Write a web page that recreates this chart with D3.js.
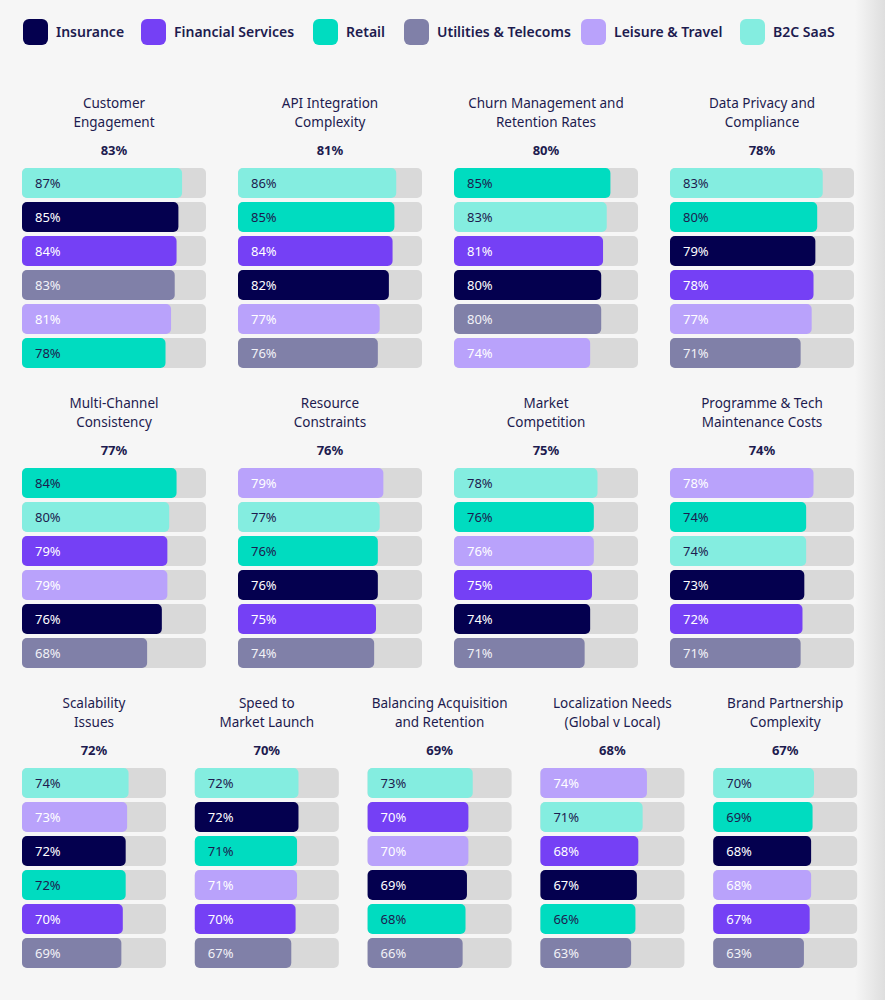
<!DOCTYPE html>
<html>
<head>
<meta charset="utf-8">
<script src="https://cdn.jsdelivr.net/npm/d3@7"></script>
<style>
  body { margin: 0; background: #f6f6f6; font-family: "Noto Sans", Inter, sans-serif; }
</style>
</head>
<body>
<svg id="chart" width="885" height="1000"></svg>
<script>
var series = ["Insurance", "Financial Services", "Retail", "Utilities & Telecoms", "Leisure & Travel", "B2C SaaS"];
var colors = ["#04004f", "#7540f5", "#00dcc0", "#8080a8", "#b9a2fb", "#84ede0"];
var labelColors = ["#ffffff", "#ffffff", "#1d1b4f", "#f2f2f7", "#ffffff", "#1d1b4f"];

var titles = [
  ["Customer", "Engagement"], ["API  Integration", "Complexity"], ["Churn Management and", "Retention Rates"], ["Data Privacy and", "Compliance"],
  ["Multi-Channel", "Consistency"], ["Resource", "Constraints"], ["Market", "Competition"], ["Programme & Tech", "Maintenance Costs"],
  ["Scalability", "Issues"], ["Speed to", "Market Launch"], ["Balancing Acquisition", "and Retention"], ["Localization Needs", "(Global v Local)"], ["Brand Partnership", "Complexity"]
];
var overall = [83, 81, 80, 78, 77, 76, 75, 74, 72, 70, 69, 68, 67];
// series index for each bar, top to bottom
var order = [
  [5, 0, 1, 3, 4, 2], [5, 2, 1, 0, 4, 3], [2, 5, 1, 0, 3, 4], [5, 2, 0, 1, 4, 3],
  [2, 5, 1, 4, 0, 3], [4, 5, 2, 0, 1, 3], [5, 2, 4, 1, 0, 3], [4, 2, 5, 0, 1, 3],
  [5, 4, 0, 2, 1, 3], [5, 0, 2, 4, 1, 3], [5, 1, 4, 0, 2, 3], [4, 5, 1, 0, 2, 3], [5, 2, 0, 4, 1, 3]
];
var values = [
  [87, 85, 84, 83, 81, 78], [86, 85, 84, 82, 77, 76], [85, 83, 81, 80, 80, 74], [83, 80, 79, 78, 77, 71],
  [84, 80, 79, 79, 76, 68], [79, 77, 76, 76, 75, 74], [78, 76, 76, 75, 74, 71], [78, 74, 74, 73, 72, 71],
  [74, 73, 72, 72, 70, 69], [72, 72, 71, 71, 70, 67], [73, 70, 70, 69, 68, 66], [74, 71, 68, 67, 66, 63], [70, 69, 68, 68, 67, 63]
];

var svg = d3.select("#chart");
var defs = svg.append("defs");
var grad = defs.append("linearGradient").attr("id", "edge");
grad.append("stop").attr("offset", "0%").attr("stop-color", "#f6f6f6");
grad.append("stop").attr("offset", "100%").attr("stop-color", "#dedede");
svg.append("rect").attr("x", 855).attr("y", 0).attr("width", 30).attr("height", 1000).attr("fill", "url(#edge)");

// legend
var legendX = [23, 141, 313, 404, 581, 740];
var leg = svg.selectAll("g.leg").data(series).enter().append("g")
  .attr("transform", function (d, i) { return "translate(" + legendX[i] + ",19)"; });
leg.append("rect").attr("width", 25).attr("height", 26).attr("rx", 6).attr("fill", function (d, i) { return colors[i]; });
leg.append("text").attr("x", 33).attr("y", 13).attr("dy", ".35em")
  .attr("font-size", 14).attr("font-weight", 600).attr("fill", "#1d1b4f").text(function (d) { return d; });

// panel layout
var panels = titles.map(function (t, i) {
  var row = Math.floor(i / 4), col = i % 4, w = 184, x0 = 22 + col * 216;
  if (i >= 8) { row = 2; col = i - 8; w = 144; x0 = 22 + col * 172.8; }
  return { i: i, x: x0, y: 95 + row * 300, w: w };
});

panels.forEach(function (p) {
  var g = svg.append("g").attr("transform", "translate(" + p.x + "," + p.y + ")");
  var x = d3.scaleLinear().domain([0, 100]).range([0, p.w]);
  var y = d3.scaleBand().domain(d3.range(6)).range([71, 71 + 6 * 34]).paddingInner(0.12).paddingOuter(0.06);

  g.selectAll("text.title").data(titles[p.i]).enter().append("text")
    .attr("x", p.w / 2).attr("y", function (d, j) { return 8 + j * 19; }).attr("dy", ".35em")
    .attr("text-anchor", "middle").attr("font-size", 13.5).attr("fill", "#1d1b4f").text(function (d) { return d; });
  g.append("text").attr("x", p.w / 2).attr("y", 55).attr("dy", ".35em").attr("text-anchor", "middle")
    .attr("font-size", 13).attr("font-weight", 700).attr("fill", "#1d1b4f").text(overall[p.i] + "%");

  var bars = g.selectAll("g.bar").data(values[p.i]).enter().append("g")
    .attr("transform", function (d, j) { return "translate(0," + y(j) + ")"; });
  bars.append("rect").attr("width", x(100)).attr("height", y.bandwidth()).attr("rx", 5).attr("fill", "#d9d9d9");
  bars.append("rect").attr("width", function (d) { return x(d); }).attr("height", y.bandwidth()).attr("rx", 5)
    .attr("fill", function (d, j) { return colors[order[p.i][j]]; });
  bars.append("text").attr("x", 13).attr("y", y.bandwidth() / 2).attr("dy", ".35em")
    .attr("font-size", 13).attr("fill", function (d, j) { return labelColors[order[p.i][j]]; })
    .text(function (d) { return d + "%"; });
});
</script>
</body>
</html>
